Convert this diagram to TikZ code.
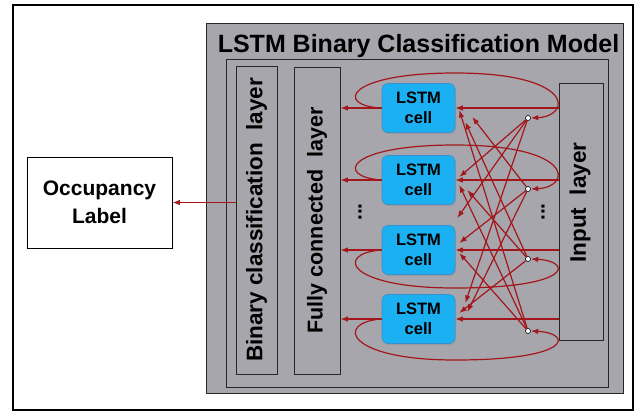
\documentclass[tikz,border=0pt]{standalone}
\usepackage{fontspec}
\setmainfont{Liberation Sans}
\usetikzlibrary{arrows.meta,calc,shadows}
\definecolor{panelgray}{HTML}{A7A6AC}
\definecolor{linkred}{HTML}{A3161C}
\definecolor{cellblue}{HTML}{1BB0F2}
\definecolor{cellrim}{HTML}{3A8FCF}
\begin{document}
\begin{tikzpicture}[x=1pt,y=-1pt,
  boxnode/.style={draw=black!85, line width=0.8pt, inner sep=0pt},
  celltext/.style={font=\bfseries\fontsize{16.5}{20.5}\selectfont},
  cellnode/.style={draw=cellrim, line width=0.6pt, fill=cellblue, rounded corners=6pt,
    minimum width=73pt, minimum height=49pt, inner sep=0pt, align=center, celltext,
    drop shadow={opacity=0.3, shadow xshift=1pt, shadow yshift=-1.5pt}},
  vtext/.style={rotate=90, font=\bfseries\fontsize{21.5}{26}\selectfont},
  vdots/.style={rotate=90, font=\bfseries\fontsize{21}{24}\selectfont},
  dotnode/.style={circle, draw=black, fill=white, line width=0.6pt, inner sep=0pt, minimum size=5pt},
  link/.style={draw=linkred, line width=1.2pt, -{Latex[length=7.5pt,width=5.5pt]}},
  loop/.style={draw=linkred, line width=1.2pt, -{Latex[length=7.5pt,width=5.5pt]}}
]
\useasboundingbox (0,0) rectangle (638,413);

% outer frame and model panel
\node[boxnode, draw=black, line width=1.1pt, fill=white, minimum width=620pt, minimum height=405pt] (frame) at (323,207.5) {};
\node[boxnode, fill=panelgray, minimum width=417pt, minimum height=370pt] (panel) at (414.5,208) {};
\node[boxnode, minimum width=382pt, minimum height=328pt] (inner) at (417,223) {};
\node[anchor=base, font=\bfseries\fontsize{25}{30}\selectfont] (title) at (418.5,52) {LSTM Binary Classification Model};

% layers
\node[boxnode, minimum width=41pt, minimum height=308pt] (bcl) at (256.5,220) {};
\node[vtext, font=\bfseries\fontsize{22.5}{26}\selectfont] (bcltext) at (bcl.center) {Binary classification\ \ layer};
\node[boxnode, minimum width=46pt, minimum height=307pt] (fc) at (317,220.5) {};
\node[vtext] (fctext) at (fc.center) {Fully connected\ \ layer};
\node[boxnode, minimum width=44pt, minimum height=257pt] (inp) at (581,211.5) {};
\node[vtext, font=\bfseries\fontsize{22.5}{26}\selectfont] (inptext) at (580,202.5) {Input\ \ layer};

% output box
\node[boxnode, draw=black, fill=white, minimum width=145pt, minimum height=91pt, align=center,
  font=\bfseries\fontsize{21}{28}\selectfont] (occ) at (99.5,202.5) {Occupancy\\Label};

% LSTM cells
\node[cellnode] (c1) at (418.5,108) {LSTM\\cell};
\node[cellnode] (c2) at (418.5,180) {LSTM\\cell};
\node[cellnode] (c3) at (418.5,250) {LSTM\\cell};
\node[cellnode] (c4) at (418.5,319) {LSTM\\cell};

\node[vdots] (vd1) at (360,212) {...};
\node[vdots] (vd2) at (543,212) {...};

% branch points
\node[dotnode] (d1) at (528,118) {};
\node[dotnode] (d2) at (528,189) {};
\node[dotnode] (d3) at (528,259) {};
\node[dotnode] (d4) at (528,331) {};

% cell outputs to the fully connected layer
\foreach \c in {c1,c2,c3,c4}
  \draw[link] (\c.west) -- (\c.west -| fc.east);

% inputs into the cells
\foreach \c in {c1,c2,c3,c4}
  \draw[link] (\c.east -| inp.west) -- (\c.east);

% cross connections between branch points and cells
\draw[link] (d4) -- ($(c1.east)+(4,2)$);
\draw[link] (d3) -- ($(c1.east)+(10,14)$);
\draw[link] (d2) -- ($(c1.east)+(17,9)$);
\draw[link] (d1) -- ($(c2.east)+(4,-3)$);
\draw[link] (d4) -- ($(c2.east)+(4,5)$);
\draw[link] (d3) -- ($(c2.east)+(12,10)$);
\draw[link] (d1) -- ($(c3.east)+(2,-32)$);
\draw[link] (d2) -- ($(c3.east)+(4,-7)$);
\draw[link] (d4) -- ($(c3.east)+(4,3)$);
\draw[link] (d1) -- ($(c4.east)+(10,-16)$);
\draw[link] (d2) -- ($(c4.east)+(12,-7)$);
\draw[link] (d3) -- ($(c4.east)+(4,-6)$);

% recurrent loops
\draw[loop] (c1.west) .. controls (335,106) and (345,73) .. (455,73)
  .. controls (575,73) and (572,116) .. (d1.east);
\draw[loop] (c2.west) .. controls (335,177) and (345,145) .. (455,145)
  .. controls (575,145) and (572,187) .. (d2.east);
\draw[loop] (c3.west) .. controls (335,253) and (345,288) .. (455,288)
  .. controls (575,288) and (572,261) .. (d3.east);
\draw[loop] (c4.west) .. controls (335,322) and (345,360) .. (455,360)
  .. controls (575,360) and (572,333) .. (d4.east);

% classification result
\draw[link] (occ.east -| bcl.west) -- (occ.east);
\end{tikzpicture}
\end{document}
